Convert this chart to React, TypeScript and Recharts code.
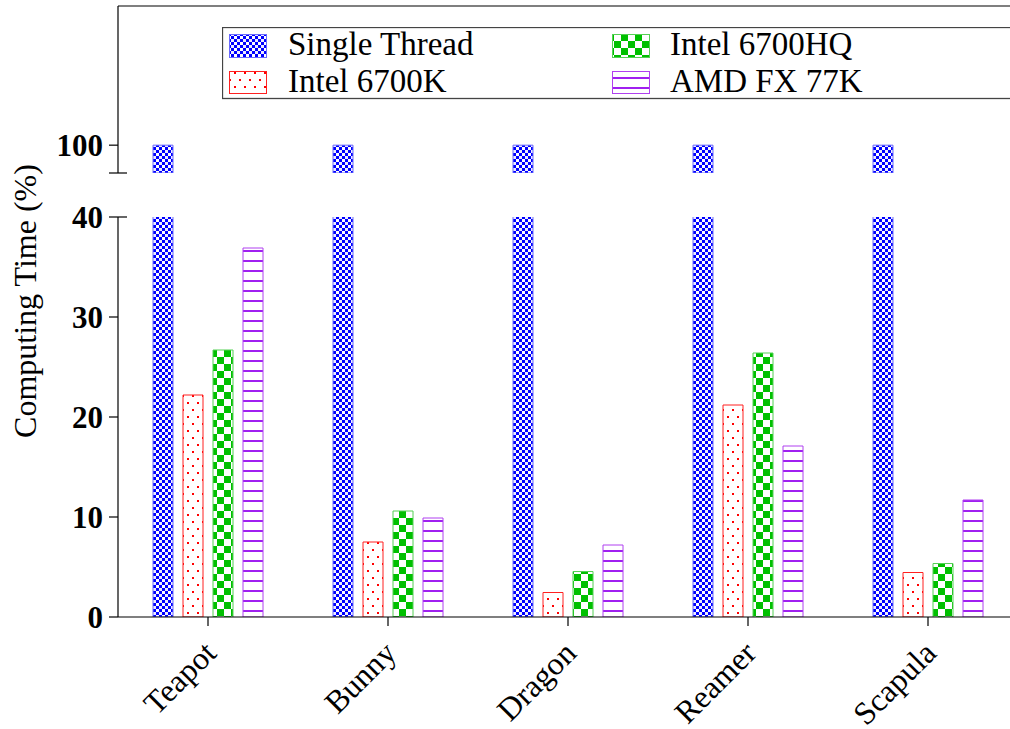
import React from 'react';
import { BarChart, Bar, XAxis, YAxis, ReferenceLine, Legend } from 'recharts';

const categories = ['Teapot', 'Bunny', 'Dragon', 'Reamer', 'Scapula'];
const singleThread = [100, 100, 100, 100, 100];
const intel6700K = [22.2, 7.5, 2.45, 21.2, 4.45];
const intel6700HQ = [26.7, 10.6, 4.55, 26.4, 5.35];
const amdFX77K = [36.9, 9.9, 7.2, 17.1, 11.7];
const seriesNames = ['Single Thread', 'Intel 6700K', 'Intel 6700HQ', 'AMD FX 77K'];
const lowerTicks = [0, 10, 20, 30, 40];
const upperTicks = [95, 100];
const lowerDomain = [0, 40];
const upperDomain = [95, 125];
const yLabel = 'Computing Time (%)';

const lowerData = categories.map((c, i) => ({
  name: c,
  st: singleThread[i],
  k: intel6700K[i],
  hq: intel6700HQ[i],
  amd: amdFX77K[i],
}));
const upperData = categories.map((c, i) => ({
  name: c,
  st: singleThread[i],
  k: null,
  hq: null,
  amd: null,
}));

const FONT = '"Liberation Serif", "Times New Roman", serif';
const TICK_SIZE = 9;
const TICK_MARGIN = 6;

const series = [
  { key: 'st', name: seriesNames[0], fill: 'url(#pBlue)', stroke: '#6a6aff' },
  { key: 'k', name: seriesNames[1], fill: 'url(#pRed)', stroke: '#ff2020' },
  { key: 'hq', name: seriesNames[2], fill: 'url(#pGreen)', stroke: '#55d055' },
  { key: 'amd', name: seriesNames[3], fill: 'url(#pPurple)', stroke: '#b040f0' },
];

const makeYTick = (special: number, hideLabel: number | null) => (props: any) => {
  const { x, y, payload } = props;
  const axisX = x + TICK_SIZE + TICK_MARGIN;
  return (
    <g>
      {payload.value === special && (
        <line x1={axisX} x2={axisX + 9} y1={y} y2={y} stroke="#000" strokeWidth={1.2} />
      )}
      {payload.value !== hideLabel && (
        <text
          x={x}
          y={y}
          dy="0.35em"
          textAnchor="end"
          fontFamily={FONT}
          fontWeight="bold"
          fontSize={31}
          fill="#000"
        >
          {payload.value}
        </text>
      )}
    </g>
  );
};

const XTick = (props: any) => {
  const { x, y, payload } = props;
  const ax = x + 10;
  const ay = y + 27;
  return (
    <text
      x={ax}
      y={ay}
      textAnchor="end"
      transform={`rotate(-45, ${ax}, ${ay})`}
      fontFamily={FONT}
      fontSize={32}
      fill="#000"
    >
      {payload.value}
    </text>
  );
};

const legendItems = [
  { ...series[0], x: 7, y: 7, h: 23, tx: 66, ty: 28 },
  { ...series[1], x: 7, y: 44, h: 22, tx: 66, ty: 64.5 },
  { ...series[2], x: 390, y: 7, h: 23, tx: 448, ty: 28 },
  { ...series[3], x: 390, y: 44, h: 22, tx: 448, ty: 64.5 },
];

const LegendBox = () => (
  <svg width={800} height={73} style={{ display: 'block' }}>
    <rect x={0.5} y={0.5} width={830} height={71} fill="#fff" stroke="#444" strokeWidth={1.3} />
    {legendItems.map((it) => (
      <g key={it.key}>
        <rect x={it.x + 0.5} y={it.y + 0.5} width={37} height={it.h} fill={it.fill} stroke={it.stroke} />
        <text x={it.tx} y={it.ty} fontFamily={FONT} fontSize={33} fill="#000">
          {it.name}
        </text>
      </g>
    ))}
  </svg>
);

export default function App() {
  return (
    <div
      style={{
        position: 'absolute',
        left: 0,
        top: 0,
        width: 1010,
        height: 729,
        overflow: 'hidden',
        background: '#fff',
      }}
    >
      <div style={{ position: 'absolute', left: 0, top: 0 }}>
        <BarChart
          width={1030}
          height={729}
          data={lowerData}
          margin={{ top: 217, right: 12, bottom: 12, left: 18 }}
          barSize={20}
          barGap={10}
        >
          <defs>
            <pattern id="pBlue" width="6" height="6" patternUnits="userSpaceOnUse">
              <rect width="6" height="6" fill="#ffffff" />
              <rect width="3" height="3" fill="#0000ff" />
              <rect x="3" y="3" width="3" height="3" fill="#0000ff" />
              <rect x="3" y="0" width="3" height="3" fill="#c8c8ff" opacity="0.35" />
            </pattern>
            <pattern id="pRed" width="10" height="14" patternUnits="userSpaceOnUse">
              <rect width="10" height="14" fill="#ffffff" />
              <rect x="2" y="3" width="2" height="2" fill="#ff0000" />
              <rect x="7" y="10" width="2" height="2" fill="#ff0000" />
            </pattern>
            <pattern id="pGreen" width="14" height="14" patternUnits="userSpaceOnUse">
              <rect width="14" height="14" fill="#ffffff" />
              <rect width="7" height="7" fill="#00c000" />
              <rect x="7" y="7" width="7" height="7" fill="#00c000" />
            </pattern>
            <pattern id="pPurple" width="10" height="10" patternUnits="userSpaceOnUse">
              <rect width="10" height="10" fill="#ffffff" />
              <rect y="0" width="10" height="2" fill="#a020f0" />
            </pattern>
          </defs>
          <XAxis
            dataKey="name"
            interval={0}
            height={100}
            tickSize={TICK_SIZE}
            tickMargin={2}
            axisLine={{ stroke: '#000', strokeWidth: 1.2 }}
            tickLine={{ stroke: '#000', strokeWidth: 1.2 }}
            tick={<XTick />}
          />
          <YAxis
            width={100}
            domain={lowerDomain}
            ticks={lowerTicks}
            allowDataOverflow
            interval={0}
            tickSize={TICK_SIZE}
            tickMargin={TICK_MARGIN}
            axisLine={{ stroke: '#000', strokeWidth: 1.2 }}
            tickLine={{ stroke: '#000', strokeWidth: 1.2 }}
            tick={makeYTick(40, null)}
            label={{
              content: () => (
                <text
                  x={36}
                  y={301}
                  textAnchor="middle"
                  transform="rotate(-90, 36, 301)"
                  fontFamily={FONT}
                  fontSize={32}
                  fill="#000"
                >
                  {yLabel}
                </text>
              ),
            }}
          />
          {series.map((s) => (
            <Bar
              key={s.key}
              dataKey={s.key}
              name={s.name}
              fill={s.fill}
              stroke={s.stroke}
              strokeWidth={1}
              isAnimationActive={false}
            />
          ))}
        </BarChart>
      </div>
      <div style={{ position: 'absolute', left: 0, top: 0 }}>
        <BarChart
          width={1030}
          height={180}
          data={upperData}
          margin={{ top: 6, right: 12, bottom: 7, left: 18 }}
          barSize={20}
          barGap={10}
        >
          <XAxis dataKey="name" hide />
          <YAxis
            width={100}
            domain={upperDomain}
            ticks={upperTicks}
            allowDataOverflow
            interval={0}
            tickSize={TICK_SIZE}
            tickMargin={TICK_MARGIN}
            axisLine={{ stroke: '#000', strokeWidth: 1.2 }}
            tickLine={{ stroke: '#000', strokeWidth: 1.2 }}
            tick={makeYTick(95, 95)}
          />
          <ReferenceLine y={125} stroke="#000" strokeWidth={1.2} ifOverflow="visible" />
          {series.map((s) => (
            <Bar
              key={s.key}
              dataKey={s.key}
              name={s.name}
              fill={s.fill}
              stroke={s.stroke}
              strokeWidth={1}
              isAnimationActive={false}
            />
          ))}
          <Legend
            layout="horizontal"
            verticalAlign="middle"
            align="center"
            wrapperStyle={{ left: 222, top: 27, width: 800, height: 73 }}
            content={() => <LegendBox />}
          />
        </BarChart>
      </div>
    </div>
  );
}
